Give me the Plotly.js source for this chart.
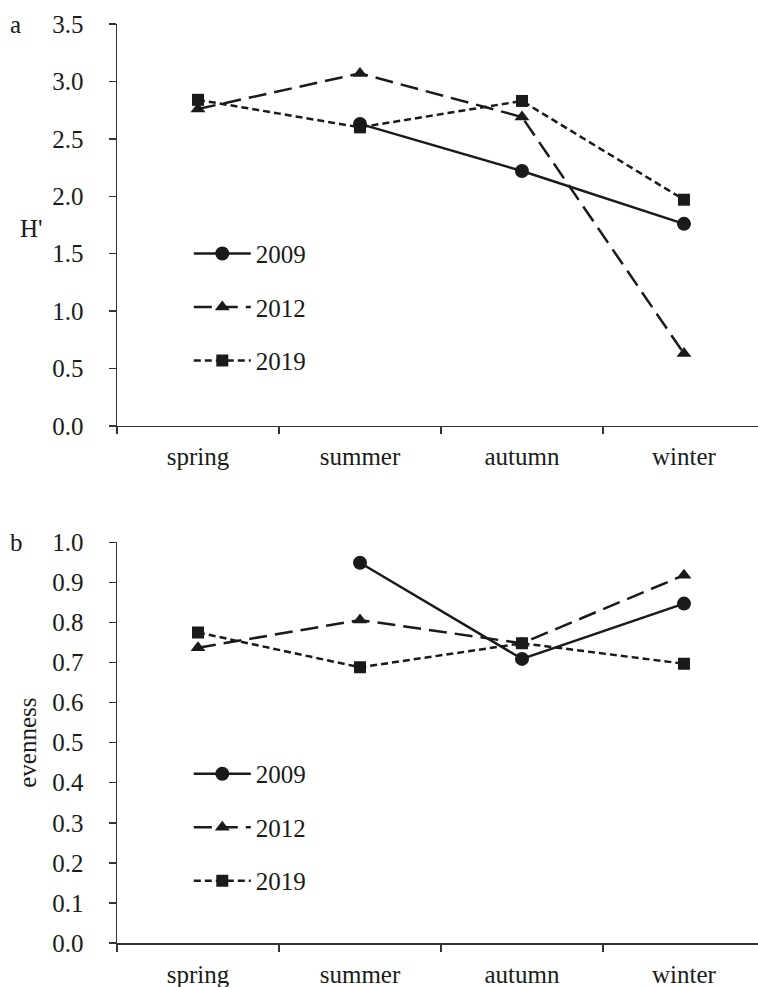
<!DOCTYPE html>
<html><head><meta charset="utf-8">
<script src="https://cdn.plot.ly/plotly-3.0.1.min.js"></script>
<style>html,body{margin:0;padding:0;overflow:hidden;background:#fff}</style>
</head><body><div id="chart" style="width:758px;height:987px"></div>
<script>
const seasons = ["spring", "summer", "autumn", "winter"];
const years = ["2009", "2012", "2019"];
// H' (Shannon diversity)
const h2009 = [null, 2.63, 2.22, 1.76];
const h2012 = [2.76, 3.07, 2.69, 0.63];
const h2019 = [2.84, 2.60, 2.83, 1.97];
// evenness
const e2009 = [null, 0.949, 0.709, 0.847];
const e2012 = [0.737, 0.806, 0.748, 0.918];
const e2019 = [0.775, 0.688, 0.748, 0.697];

const ink = "#1a1a1a";
const fontFam = "Liberation Serif";
const styles = [
  {dash: "solid", symbol: "circle", size: 14},
  {dash: "18px,8px", symbol: "triangle-up", size: 13},
  {dash: "7px,4px", symbol: "square", size: 12}
];
const topSeries = [h2009, h2012, h2019];
const botSeries = [e2009, e2012, e2019];

const traces = [];
topSeries.forEach((ys, i) => {
  traces.push({
    x: seasons, y: ys, name: years[i], type: "scatter", mode: "lines+markers",
    line: {color: ink, width: 2.5, dash: styles[i].dash},
    marker: {color: ink, symbol: styles[i].symbol, size: styles[i].size},
    xaxis: "x", yaxis: "y", legend: "legend", legendgroup: "t" + i,
    connectgaps: false
  });
});
botSeries.forEach((ys, i) => {
  traces.push({
    x: seasons, y: ys, name: years[i], type: "scatter", mode: "lines+markers",
    line: {color: ink, width: 2.5, dash: styles[i].dash},
    marker: {color: ink, symbol: styles[i].symbol, size: styles[i].size},
    xaxis: "x2", yaxis: "y2", legend: "legend2", legendgroup: "b" + i,
    connectgaps: false
  });
});

const axisFont = {family: fontFam, size: 25, color: ink};
const xCommon = {
  type: "category", categoryarray: seasons, range: [-0.5, 3.457],
  showline: true, linecolor: "#333", linewidth: 1.5,
  ticks: "outside", ticklen: 7, tickwidth: 1.5, tickcolor: "#333",
  tickson: "boundaries", showgrid: false, zeroline: false,
  tickfont: axisFont, ticklabelstandoff: 8
};
const yCommon = {
  showline: true, linecolor: "#333", linewidth: 1.5,
  ticks: "outside", ticklen: 7, tickwidth: 1.5, tickcolor: "#333",
  showgrid: false, zeroline: false, tickfont: axisFont, tickformat: ".1f",
  ticklabelstandoff: 20
};
const legendCommon = {
  font: {family: fontFam, size: 25, color: ink},
  bgcolor: "rgba(0,0,0,0)", traceorder: "grouped", tracegroupgap: 18,
  xanchor: "left", yanchor: "top", itemwidth: 57
};

const layout = {
  width: 758, height: 987,
  margin: {l: 117, r: 0, t: 24, b: 44},
  paper_bgcolor: "#fff", plot_bgcolor: "#fff",
  font: {family: fontFam, color: ink},
  xaxis: Object.assign({}, xCommon, {anchor: "y"}),
  yaxis: Object.assign({}, yCommon, {domain: [0.5626, 1], range: [0, 3.5], dtick: 0.5}),
  xaxis2: Object.assign({}, xCommon, {anchor: "y2"}),
  yaxis2: Object.assign({}, yCommon, {domain: [0, 0.436], range: [0, 1.0], dtick: 0.1,
    title: {text: "evenness", font: {family: fontFam, size: 25, color: ink}, standoff: 8}}),
  legend: Object.assign({}, legendCommon, {x: 0.112, y: 0.775}),
  legend2: Object.assign({}, legendCommon, {x: 0.112, y: 0.209}),
  showlegend: true,
  annotations: [
    {text: "a", xref: "paper", yref: "paper", x: -0.17, y: 1.0, xanchor: "left", yanchor: "middle",
     showarrow: false, font: {family: fontFam, size: 25, color: ink}},
    {text: "b", xref: "paper", yref: "paper", x: -0.17, y: 0.436, xanchor: "left", yanchor: "middle",
     showarrow: false, font: {family: fontFam, size: 25, color: ink}},
    {text: "H'", xref: "paper", yref: "paper", x: -0.155, y: 0.778, xanchor: "left", yanchor: "middle",
     showarrow: false, font: {family: fontFam, size: 25, color: ink}}
  ]
};

Plotly.newPlot("chart", traces, layout, {displayModeBar: false, staticPlot: true});
</script></body></html>
